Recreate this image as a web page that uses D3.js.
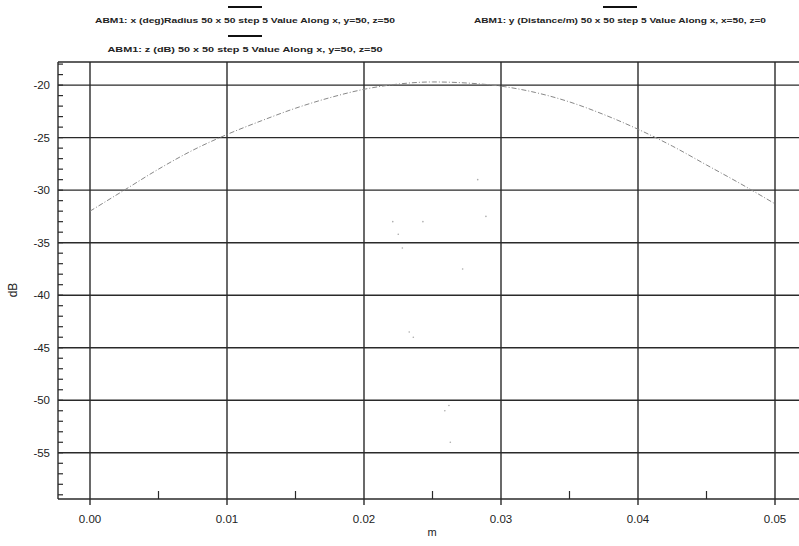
<!DOCTYPE html>
<html>
<head>
<meta charset="utf-8">
<script src="https://cdn.jsdelivr.net/npm/d3@7"></script>
<style>
body { margin: 0; background: #fff; }
svg text { font-family: "Liberation Sans", Arial, sans-serif; fill: #222; }
</style>
</head>
<body>
<svg id="chart" width="799" height="546"></svg>
<script>
// main curve, dB along x (m)
var xVals = [0, 0.0025, 0.005, 0.0075, 0.01, 0.0125, 0.015, 0.0175, 0.02, 0.0225, 0.025,
             0.0275, 0.03, 0.0325, 0.035, 0.0375, 0.04, 0.0425, 0.045, 0.0475, 0.05];
var dbVals = [-32.0, -30.0, -28.0, -26.2, -24.7, -23.4, -22.2, -21.2, -20.4, -19.9, -19.7,
              -19.8, -20.1, -20.7, -21.6, -22.8, -24.2, -25.8, -27.6, -29.4, -31.3];

// faint stray points of the other traces
var strayX = [0.0221, 0.0225, 0.0228, 0.0233, 0.0236, 0.0243, 0.0259, 0.0262, 0.0263, 0.0272, 0.0283, 0.0289];
var strayY = [-33.0, -34.2, -35.5, -43.5, -44.0, -33.0, -51.0, -50.5, -54.0, -37.5, -29.0, -32.5];

var legendLabels = [
    "ABM1: x (deg)Radius 50 x 50 step 5 Value Along x, y=50, z=50",
    "ABM1: y (Distance/m) 50 x 50 step 5 Value Along x, x=50, z=0",
    "ABM1: z (dB) 50 x 50 step 5 Value Along x, y=50, z=50"
];

var xTicks = [0, 0.01, 0.02, 0.03, 0.04, 0.05];
var yTicks = [-20, -25, -30, -35, -40, -45, -50, -55];

var svg = d3.select('#chart');
var pLeft = 58, pTop = 62, pRight = 799, pBottom = 499;

var x = d3.scaleLinear().domain([0, 0.05]).range([90, 775]);
var y = d3.scaleLinear().domain([-59.4, -17.8]).range([pBottom, pTop]);

// grid
svg.append('g').selectAll('line')
    .data(yTicks)
    .enter()
    .append('line')
    .attr('x1', pLeft).attr('x2', pRight)
    .attr('y1', function (d) { return y(d); })
    .attr('y2', function (d) { return y(d); })
    .attr('stroke', '#2a2a2a')
    .attr('stroke-width', 1.4);

svg.append('g').selectAll('line')
    .data(xTicks)
    .enter()
    .append('line')
    .attr('x1', function (d) { return x(d); })
    .attr('x2', function (d) { return x(d); })
    .attr('y1', pTop).attr('y2', pBottom + 6)
    .attr('stroke', '#2a2a2a')
    .attr('stroke-width', 1.4);

// frame: top, left, bottom
svg.append('line').attr('x1', pLeft).attr('x2', pRight).attr('y1', pTop).attr('y2', pTop)
    .attr('stroke', '#2a2a2a').attr('stroke-width', 1.4);
svg.append('line').attr('x1', pLeft).attr('x2', pLeft).attr('y1', pTop).attr('y2', pBottom)
    .attr('stroke', '#2a2a2a').attr('stroke-width', 1.4);
svg.append('line').attr('x1', pLeft).attr('x2', pRight).attr('y1', pBottom).attr('y2', pBottom)
    .attr('stroke', '#2a2a2a').attr('stroke-width', 1.4);

// minor y ticks every 1 dB
var yMinor = d3.range(-59, -17, 1);
svg.append('g').selectAll('line')
    .data(yMinor)
    .enter()
    .append('line')
    .attr('x1', pLeft).attr('x2', pLeft + 5)
    .attr('y1', function (d) { return y(d); })
    .attr('y2', function (d) { return y(d); })
    .attr('stroke', '#2a2a2a')
    .attr('stroke-width', 1.2);

// minor x ticks at the half steps
var xMinor = [0.005, 0.015, 0.025, 0.035, 0.045];
svg.append('g').selectAll('line')
    .data(xMinor)
    .enter()
    .append('line')
    .attr('x1', function (d) { return x(d); })
    .attr('x2', function (d) { return x(d); })
    .attr('y1', pBottom).attr('y2', pBottom - 8)
    .attr('stroke', '#2a2a2a')
    .attr('stroke-width', 1.2);

// tick labels
svg.append('g').selectAll('text')
    .data(yTicks)
    .enter()
    .append('text')
    .attr('x', 50)
    .attr('y', function (d) { return y(d) + 4; })
    .attr('text-anchor', 'end')
    .attr('font-size', 11.5)
    .text(function (d) { return d; });

svg.append('g').selectAll('text')
    .data(xTicks)
    .enter()
    .append('text')
    .attr('x', function (d) { return x(d); })
    .attr('y', 523)
    .attr('text-anchor', 'middle')
    .attr('font-size', 11.5)
    .text(function (d) { return d3.format('.2f')(d); });

svg.append('text')
    .attr('transform', 'translate(17,290) rotate(-90)')
    .attr('text-anchor', 'middle')
    .attr('font-size', 12)
    .text('dB');

svg.append('text')
    .attr('x', 432).attr('y', 536)
    .attr('text-anchor', 'middle')
    .attr('font-size', 11)
    .text('m');

// curves
var pts = xVals.map(function (d, i) { return [d, dbVals[i]]; });
var line = d3.line()
    .x(function (d) { return x(d[0]); })
    .y(function (d) { return y(d[1]); })
    .curve(d3.curveMonotoneX);

svg.append('path')
    .attr('d', line(pts))
    .attr('fill', 'none')
    .attr('stroke', '#888')
    .attr('stroke-width', 1)
    .attr('stroke-dasharray', '5,2,1,2');

svg.append('g').selectAll('circle')
    .data(strayX)
    .enter()
    .append('circle')
    .attr('cx', function (d) { return x(d); })
    .attr('cy', function (d, i) { return y(strayY[i]); })
    .attr('r', 0.8)
    .attr('fill', '#aaa');

// legend
var legendPos = [[245, 20], [620, 20], [245, 49]];
var legendWidth = [300, 292, 275];
var lg = svg.append('g').selectAll('g')
    .data(legendLabels)
    .enter()
    .append('g');

lg.append('line')
    .attr('x1', function (d, i) { return legendPos[i][0] - 17; })
    .attr('x2', function (d, i) { return legendPos[i][0] + 17; })
    .attr('y1', function (d, i) { return legendPos[i][1] - 13; })
    .attr('y2', function (d, i) { return legendPos[i][1] - 13; })
    .attr('stroke', '#111')
    .attr('stroke-width', 2);

lg.append('text')
    .attr('x', function (d, i) { return legendPos[i][0]; })
    .attr('y', function (d, i) { return legendPos[i][1] + 3; })
    .attr('text-anchor', 'middle')
    .attr('font-size', 8)
    .attr('font-weight', 'bold')
    .attr('textLength', function (d, i) { return legendWidth[i]; })
    .attr('lengthAdjust', 'spacingAndGlyphs')
    .text(function (d) { return d; });
</script>
</body>
</html>
